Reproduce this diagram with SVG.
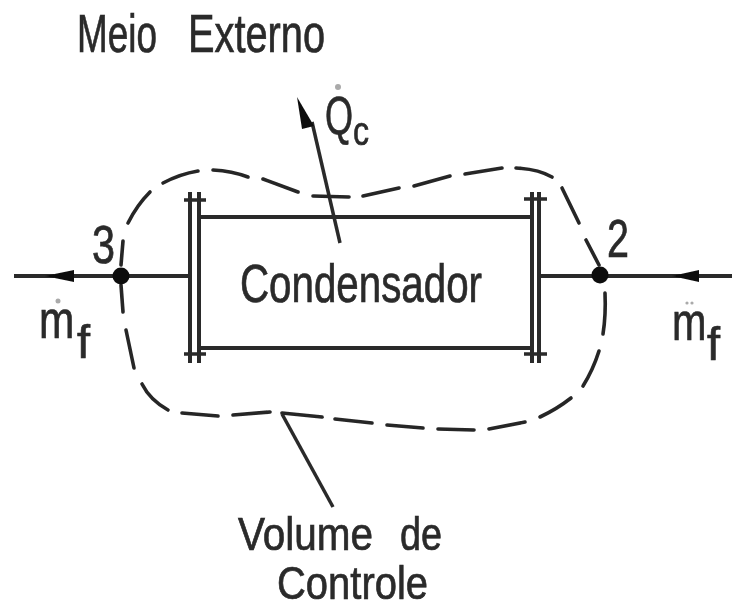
<svg xmlns="http://www.w3.org/2000/svg" width="732" height="610" viewBox="0 0 732 610">
<style>
text{font-family:"Liberation Sans",Arial,sans-serif;fill:#2a2a2a;stroke:#2a2a2a;stroke-width:0.7;font-size:53px}
.sub{font-size:40px}
.low{font-size:47px}
.ln{fill:none;stroke:#2a2a2a;stroke-width:4;stroke-linecap:butt}
.th{stroke-width:3.5}
.dash{fill:none;stroke:#262626;stroke-width:3.6;stroke-linecap:round}
.dot{fill:#111}
.faint{fill:#aaa}
</style>
<defs>
<filter id="soft" x="-5%" y="-5%" width="110%" height="110%"><feGaussianBlur stdDeviation="0.7"/></filter>
</defs>
<rect width="732" height="610" fill="#fff"/>
<g filter="url(#soft)">
<g id="connectors">
<path class="ln" d="M14 276H190"/>
<path class="ln" d="M540 276H732"/>
<path class="dot" d="M45 276L74 270V282Z"/>
<path class="dot" d="M672 276L699 270V282Z"/>
<path class="ln th" d="M312 122L340 243"/>
<path class="dot" d="M297 97L314 126L302 129Z"/>
<path class="ln th" d="M282 414L333 507"/>
</g>
<g id="volume-de-controle">
<path class="dash" d="M128 223Q137 205 150 192"/>
<path class="dash" d="M163 183Q180 174 198 171"/>
<path class="dash" d="M213 170Q232 171 248 177"/>
<path class="dash" d="M263 179L298 192"/>
<path class="dash" d="M313 196L349 197"/>
<path class="dash" d="M363 196L399 188"/>
<path class="dash" d="M414 186L450 176"/>
<path class="dash" d="M465 174L502 168"/>
<path class="dash" d="M516 168Q538 169 552 177"/>
<path class="dash" d="M562 188L579 223"/>
<path class="dash" d="M586 240L599 265"/>
<path class="dash" d="M605 293Q606 315 603 334"/>
<path class="dash" d="M599 351Q593 370 583 386"/>
<path class="dash" d="M571 398Q557 409 540 417"/>
<path class="dash" d="M525 422L489 429"/>
<path class="dash" d="M474 430L438 429"/>
<path class="dash" d="M423 428L387 425"/>
<path class="dash" d="M372 423L335 419"/>
<path class="dash" d="M322 417L282 413"/>
<path class="dash" d="M270 412L233 415"/>
<path class="dash" d="M218 416L182 413"/>
<path class="dash" d="M168 410Q150 400 142 384"/>
<path class="dash" d="M134 368L126 330"/>
<path class="dash" d="M123 312L121 285"/>
<path class="dash" d="M121 265L123 241"/>
</g>
<g id="condensador">
<path class="ln" d="M200 217H532M200 348H532"/>
<path class="ln" d="M190 192V363M199 192V363M532 192V363M539 192V363"/>
<path class="ln th" d="M184 200H206M184 354H206M524 199H547M524 354H547"/>
<text x="240" y="302" textLength="242" lengthAdjust="spacingAndGlyphs">Condensador</text>
</g>
<g id="ponto-3">
<circle class="dot" cx="121" cy="276" r="8.5"/>
<text x="92" y="263" textLength="23" lengthAdjust="spacingAndGlyphs">3</text>
</g>
<g id="ponto-2">
<circle class="dot" cx="600" cy="275" r="8.5"/>
<text x="607" y="257" textLength="22" lengthAdjust="spacingAndGlyphs">2</text>
</g>
<g id="meio-externo">
<text x="77" y="52" textLength="80" lengthAdjust="spacingAndGlyphs">Meio</text>
<text x="188" y="52" textLength="137" lengthAdjust="spacingAndGlyphs">Externo</text>
</g>
<g id="calor">
<circle class="faint" cx="338" cy="87" r="3"/>
<text transform="translate(325 134) scale(0.68 1)">Q</text>
<text class="sub" transform="translate(353 145) scale(0.8 1)">c</text>
</g>
<g id="vazao-saida">
<circle class="faint" cx="58" cy="301" r="2.5"/>
<text transform="translate(39 338) scale(0.8 1)">m</text>
<text class="low" transform="translate(77 358) scale(1 1)">f</text>
</g>
<g id="vazao-entrada">
<circle class="faint" cx="687" cy="303" r="1.6"/><circle class="faint" cx="692" cy="303" r="1.6"/>
<text transform="translate(672 340) scale(0.78 1)">m</text>
<text class="low" transform="translate(707 360) scale(1 1)">f</text>
</g>
<g id="volume-label">
<text class="low" x="238" y="550" textLength="135" lengthAdjust="spacingAndGlyphs">Volume</text>
<text class="low" x="400" y="550" textLength="42" lengthAdjust="spacingAndGlyphs">de</text>
<text class="low" x="277" y="599" textLength="151" lengthAdjust="spacingAndGlyphs">Controle</text>
</g>
</g>
</svg>
